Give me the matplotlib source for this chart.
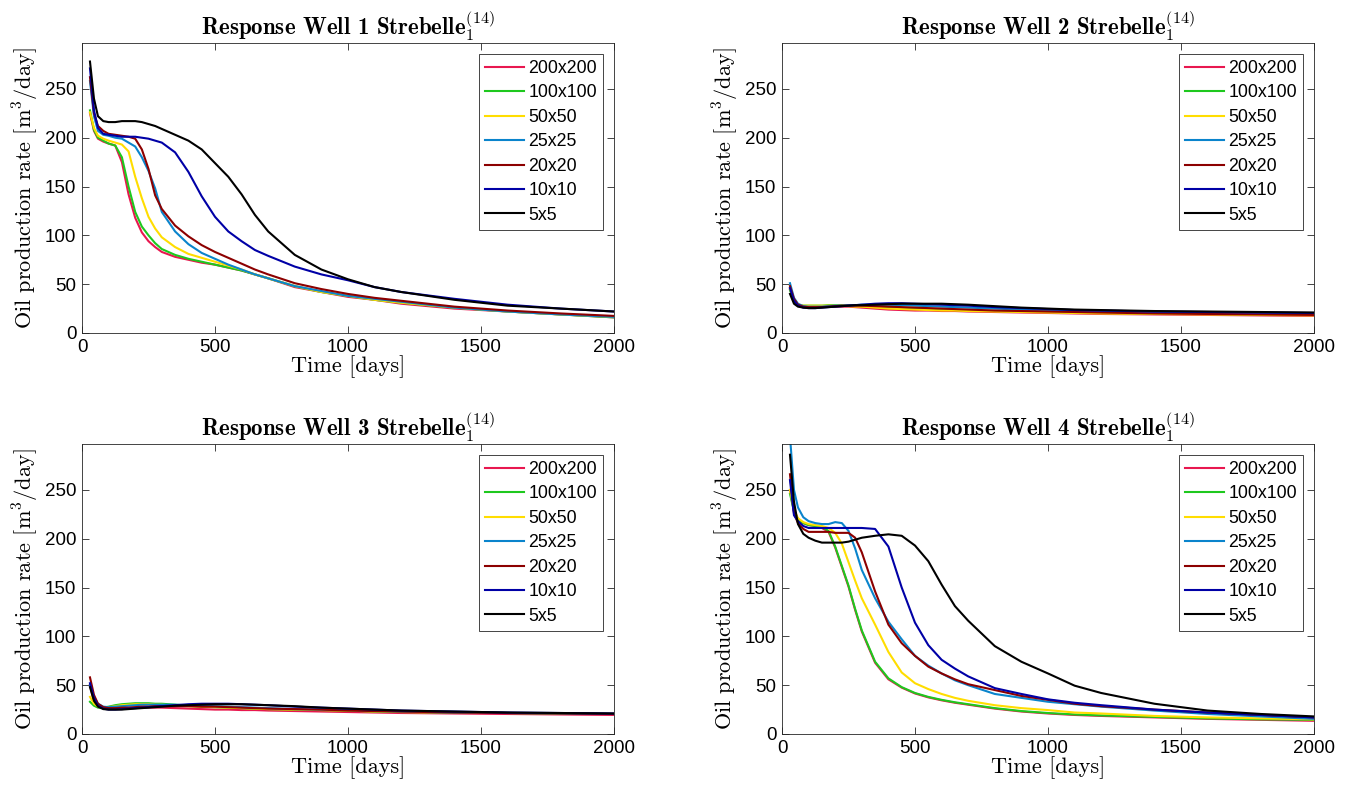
import matplotlib
matplotlib.use("Agg")
import matplotlib.pyplot as plt

plt.rcParams['mathtext.fontset'] = 'cm'
plt.rcParams['font.family'] = ['Liberation Sans', 'DejaVu Sans']

# ---- data ----
time_days = [30, 45, 60, 80, 100, 125, 150, 175, 200, 225, 250, 275, 300, 350, 400,
             450, 500, 550, 600, 650, 700, 800, 900, 1000, 1100, 1200, 1400, 1600, 1800, 2000]

labels = ['200x200', '100x100', '50x50', '25x25', '20x20', '10x10', '5x5']
colors = ['#e8174f', '#1ec81e', '#ffdd00', '#0a84cc', '#8c0000', '#0000a6', '#000000']

# Well 1
w1_200 = [225, 207, 199, 196, 194, 192, 175, 142, 118, 103, 94, 88, 83, 78, 75, 72, 70, 67, 64, 60, 56, 47, 42, 37, 34, 30, 25, 22, 19, 16]
w1_100 = [228, 208, 200, 197, 194, 192, 180, 150, 124, 109, 100, 92, 86, 80, 76, 73, 70, 67, 64, 60, 56, 48, 42, 38, 34, 31, 26, 22, 19, 16]
w1_50 = [226, 210, 202, 199, 197, 195, 193, 186, 160, 138, 119, 107, 98, 88, 81, 77, 73, 69, 65, 60, 56, 48, 42, 38, 34, 31, 26, 22, 19, 16.5]
w1_25 = [258, 222, 207, 203, 202, 200, 199, 195, 191, 180, 166, 148, 124, 104, 91, 82, 76, 70, 65, 60, 56, 48, 43, 38, 35, 32, 26, 22, 19, 16.5]
w1_20 = [262, 225, 212, 207, 204, 203, 202, 201, 199, 188, 168, 141, 127, 110, 99, 90, 83, 77, 71, 65, 60, 51, 45, 40, 36, 33, 27, 23, 20, 17.5]
w1_10 = [271, 228, 210, 204, 203, 202, 201, 201, 201, 200, 199, 197, 195, 185, 165, 140, 119, 104, 94, 85, 79, 68, 60, 54, 47, 42, 35, 29, 25, 22]
w1_5 = [278, 240, 222, 217, 216, 216, 217, 217, 217, 216, 214, 212, 209, 203, 197, 188, 174, 160, 142, 121, 104, 80, 65, 55, 47, 42, 34, 28, 25, 22]

# Well 2
w2_200 = [45, 33, 29, 27, 26.5, 26.5, 27, 27, 27, 27, 27, 26.5, 26, 25, 24, 23.5, 23, 23, 22.5, 22.5, 22, 21.5, 21, 20.5, 20, 19.5, 19, 18.5, 18, 17.5]
w2_100 = [44, 33, 29, 28, 28, 28, 28, 28.5, 28.5, 28.5, 28, 28, 27.5, 27, 26, 25.5, 25, 24.5, 24, 23.5, 23, 22.5, 22, 21.5, 21, 20.5, 20, 19.5, 19, 18.5]
w2_50 = [46, 34, 29, 28, 28, 28, 28, 28, 28, 28, 27.5, 27, 27, 26, 25, 24.5, 24, 23.5, 23, 23, 22.5, 22, 21.5, 21, 20.5, 20, 19.5, 19, 18.5, 18]
w2_25 = [51, 36, 30, 27.5, 27, 27, 27, 27.5, 28, 28, 28.5, 28.5, 29, 29, 29, 28.5, 28, 27.5, 27, 26.5, 26, 25, 24, 23, 22.5, 22, 21, 20.5, 20, 19.5]
w2_20 = [48, 35, 29, 27, 26.5, 26.5, 26.5, 27, 27.5, 28, 28, 28, 28, 27.5, 27, 26.5, 26, 25.5, 25, 24.5, 24, 23, 22.5, 22, 21.5, 21, 20, 19.5, 19, 18.5]
w2_10 = [46, 33, 28, 26, 25.5, 25.5, 26, 26.5, 27, 27.5, 28, 28.5, 29, 30, 30.5, 30.5, 30, 29.5, 29, 28.5, 28, 26.5, 25.5, 24.5, 23.5, 23, 22, 21.5, 21, 20.5]
w2_5 = [40, 30, 27, 26, 25.5, 25.5, 26, 26.5, 27, 27.5, 28, 28.5, 28.5, 29, 29.5, 30, 30, 30, 30, 29.5, 29, 27.5, 26, 25, 24, 23.5, 22.5, 22, 21.5, 21]

# Well 3
w3_200 = [50, 33, 28, 26.5, 26.5, 27, 27, 27, 27, 27, 27, 27, 27, 26.5, 26, 25.5, 25, 25, 24.5, 24.5, 24, 23.5, 23, 22.5, 22, 21.5, 21, 20.5, 20, 19.5]
w3_100 = [33, 29, 27, 27, 28, 29.5, 30.5, 31, 31.5, 31.5, 31.5, 31, 31, 30, 29, 28, 27.5, 27, 26.5, 26, 25.5, 25, 24.5, 24, 23, 22.5, 22, 21.5, 21, 20.5]
w3_50 = [38, 31, 28, 27, 27.5, 28.5, 29.5, 30, 30.5, 30.5, 30.5, 30, 30, 29, 28.5, 28, 27.5, 27, 26.5, 26, 25.5, 25, 24.5, 24, 23, 22.5, 22, 21.5, 21, 20.5]
w3_25 = [50, 38, 31, 28, 27.5, 28, 28.5, 29, 29.5, 30, 30, 30, 30, 30, 29.5, 29, 28.5, 28, 27.5, 27, 26.5, 25.5, 25, 24.5, 23.5, 23, 22, 21.5, 21, 20.5]
w3_20 = [58, 40, 31, 27.5, 26.5, 26.5, 27, 27, 27.5, 28, 28, 28.5, 28.5, 28.5, 28.5, 28, 28, 27.5, 27, 26.5, 26, 25.5, 25, 24, 23.5, 23, 22, 21.5, 21, 20.5]
w3_10 = [52, 37, 29, 26, 25, 25, 25.5, 26, 26.5, 27, 27.5, 28, 28.5, 29.5, 30.5, 31, 31, 31, 30.5, 30, 29.5, 28, 27, 26, 25, 24, 23, 22, 21.5, 21]
w3_5 = [48, 34, 28, 25.5, 25, 25, 25, 25.5, 26, 26.5, 27, 27.5, 28, 29, 29.5, 30, 30.5, 30.5, 30.5, 30, 29.5, 28.5, 27, 26, 25, 24, 23, 22, 21.5, 21]

# Well 4
w4_200 = [250, 228, 220, 216, 214, 213, 211, 207, 191, 171, 151, 127, 105, 73, 56, 47.5, 41.5, 37.5, 34.5, 32, 30, 26, 23, 21, 19.5, 18.5, 17, 15.5, 14.5, 13.5]
w4_100 = [246, 228, 220, 216, 214, 213, 212, 208, 192, 172, 152, 128, 106, 74, 57, 48, 42, 38, 35, 32.5, 30.5, 26.5, 23.5, 21.5, 20, 19, 17.5, 16, 15, 14.5]
w4_50 = [250, 230, 221, 217, 215, 214, 213, 211, 206, 195, 176, 157, 139, 112, 84, 63, 52, 46, 41, 37, 34, 29.5, 26.5, 24.5, 22, 21, 18.5, 17, 16, 15]
w4_25 = [305, 250, 232, 222, 218, 216, 215, 215, 217, 216, 208, 190, 168, 139, 115, 97, 80, 70, 62, 55, 50, 41, 37, 33, 30.5, 28, 24, 20.5, 18, 15.5]
w4_20 = [266, 226, 216, 210, 207, 207, 207, 207, 206, 206, 206, 201, 186, 146, 112, 93, 80, 69, 62, 56, 51, 45, 39, 35, 31, 28.5, 25, 22, 19.5, 17]
w4_10 = [260, 224, 218, 213, 211, 211, 211, 211, 211, 211, 211, 211, 211, 210, 192, 150, 114, 91, 76, 67, 59, 47, 41, 35.5, 32, 29.5, 25, 22, 19.5, 17]
w4_5 = [286, 238, 215, 205, 201, 198, 196, 196, 196, 196, 197, 199, 201, 203, 204.5, 203, 193, 177, 153, 131, 116, 90, 74, 62, 49.5, 42, 31, 24, 20.5, 18]

wells = [
    [w1_200, w1_100, w1_50, w1_25, w1_20, w1_10, w1_5],
    [w2_200, w2_100, w2_50, w2_25, w2_20, w2_10, w2_5],
    [w3_200, w3_100, w3_50, w3_25, w3_20, w3_10, w3_5],
    [w4_200, w4_100, w4_50, w4_25, w4_20, w4_10, w4_5],
]

# ---- figure ----
fig = plt.figure(figsize=(13.48, 7.94), dpi=100)
W, H = 1348, 794
lefts = [82, 782, 82, 782]
tops = [43, 43, 444, 444]
aw, ah = 532, 290

for k in range(4):
    ax = fig.add_axes([lefts[k] / W, 1 - (tops[k] + ah) / H, aw / W, ah / H])
    for series, lab, c in zip(wells[k], labels, colors):
        ax.plot(time_days, series, color=c, lw=1.5, label=lab)
    ax.set_xlim(0, 2000)
    ax.set_ylim(0, 297)
    ax.set_xticks([0, 500, 1000, 1500, 2000])
    ax.set_yticks([0, 50, 100, 150, 200, 250])
    ax.tick_params(direction='in', top=True, right=True, length=5, width=0.6,
                   labelsize=13.5, color='#262626', pad=4)
    for sp in ax.spines.values():
        sp.set_linewidth(0.6)
        sp.set_color('#262626')
    ax.set_title('Response Well %d Strebelle$_1^{(14)}$' % (k + 1),
                 fontsize=16.5, fontfamily='cmb10', pad=6)
    ax.set_xlabel('Time [days]', fontsize=16, fontfamily='cmr10', labelpad=0)
    ax.set_ylabel('Oil production rate [m$^3$/day]', fontsize=16,
                  fontfamily='cmr10', labelpad=3)
    leg = ax.legend(loc='upper right', prop={'size': 12.8}, fancybox=False, framealpha=1,
                    edgecolor='#262626', handlelength=2.2, handletextpad=0.25,
                    labelspacing=0.42, borderpad=0.35, borderaxespad=0.6)
    leg.get_frame().set_linewidth(0.6)

fig.savefig('out.png', dpi=100)
